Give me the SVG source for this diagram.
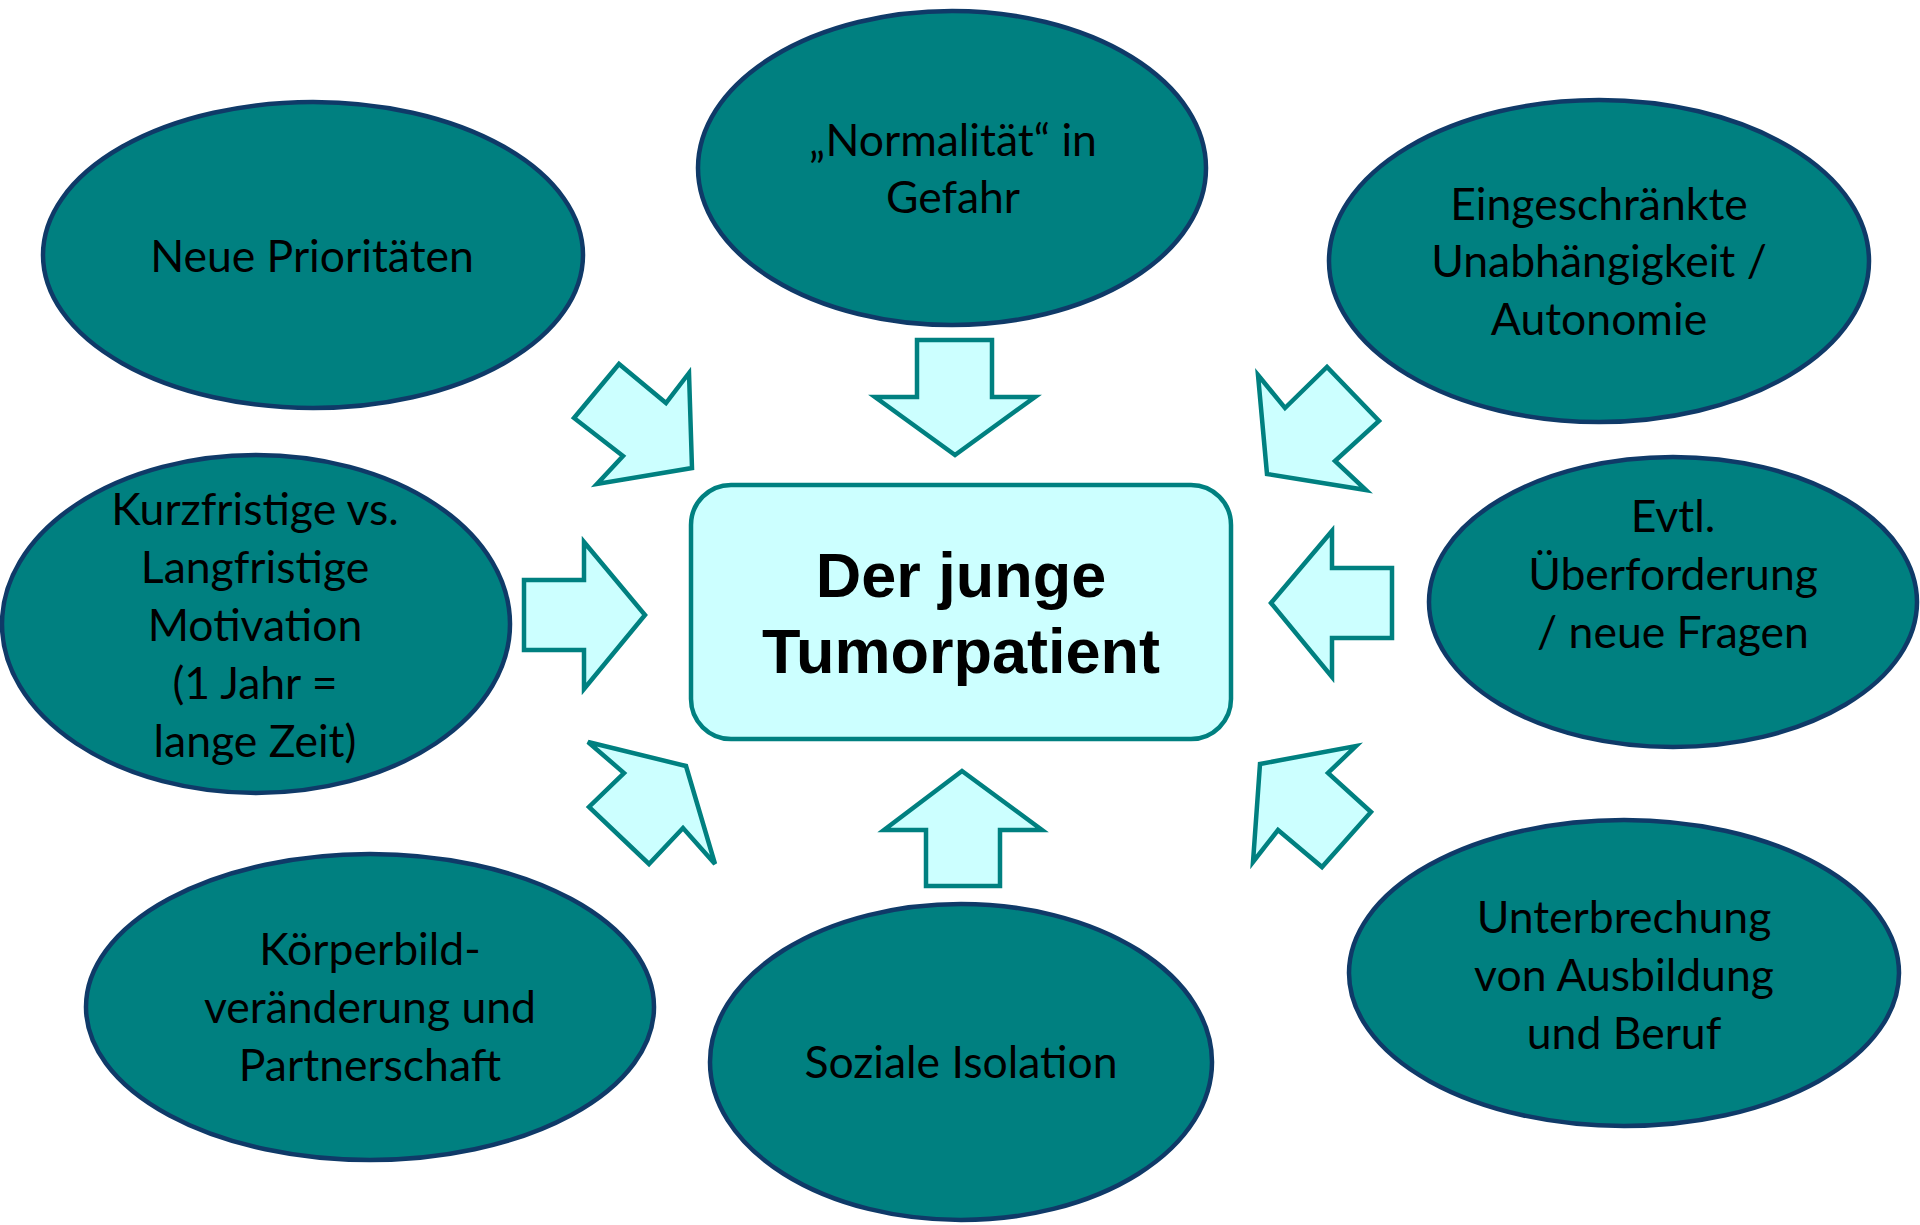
<svg xmlns="http://www.w3.org/2000/svg" width="1920" height="1225" viewBox="0 0 1920 1225">
<style>
.bubble{fill:#008080;stroke:#0F3A68;stroke-width:4.5}
.lbl{font-family:Lato,"Liberation Sans",sans-serif;font-size:44.5px;fill:#000;text-anchor:middle}
.arrow{fill:#CCFFFF;stroke:#008080;stroke-width:4.5;stroke-linejoin:miter}
.core{fill:#CCFFFF;stroke:#008080;stroke-width:4.5}
.title{font-family:"Liberation Sans",Arial,sans-serif;font-weight:bold;font-size:63px;fill:#000;text-anchor:middle}
</style>
<rect width="1920" height="1225" fill="#FFFFFF"/>
<g id="connectors">
<polygon class="arrow" points="574,418 619,364 666,403 689,373 692,468 597,484 623,456"/>
<polygon class="arrow" points="917,340 992,340 992,397 1035,397 955,455 875,397 917,397"/>
<polygon class="arrow" points="1258,375 1285,408 1327,367 1379,421 1335,461 1366,490 1267,474"/>
<polygon class="arrow" points="524,580 584,580 584,542 645,615 584,689 584,650 524,650"/>
<polygon class="arrow" points="1392,568 1332,568 1332,531 1271,603 1332,677 1332,638 1392,638"/>
<polygon class="arrow" points="588,742 686,766 715,864 683,828 649,864 589,807 624,773"/>
<polygon class="arrow" points="962,771 1042,830 1000,830 1000,886 926,886 926,830 884,830"/>
<polygon class="arrow" points="1260,764 1356,746 1328,773 1371,812 1322,867 1278,830 1253,862"/>
</g>
<g id="node-center">
<rect class="core" x="691" y="485" width="540" height="254" rx="40" ry="40"/>
<text class="title" x="961" y="597">Der junge</text>
<text class="title" x="961" y="673">Tumorpatient</text>
</g>
<g id="node-prioritaeten">
<ellipse class="bubble" cx="313" cy="255" rx="270" ry="153"/>
<text class="lbl" x="312" y="272">Neue Prioritäten</text>
</g>
<g id="node-normalitaet">
<ellipse class="bubble" cx="952" cy="168" rx="254" ry="157"/>
<text class="lbl" x="953" y="156">„Normalität“ in</text>
<text class="lbl" x="953" y="213">Gefahr</text>
</g>
<g id="node-autonomie">
<ellipse class="bubble" cx="1599" cy="261" rx="270" ry="161"/>
<text class="lbl" x="1599" y="220">Eingeschränkte</text>
<text class="lbl" x="1599" y="277">Unabhängigkeit /</text>
<text class="lbl" x="1599" y="335">Autonomie</text>
</g>
<g id="node-motivation">
<ellipse class="bubble" cx="256" cy="624" rx="254" ry="169"/>
<text class="lbl" x="255" y="525">Kurzfristige vs.</text>
<text class="lbl" x="255" y="583">Langfristige</text>
<text class="lbl" x="255" y="641">Motivation</text>
<text class="lbl" x="255" y="699">(1 Jahr =</text>
<text class="lbl" x="255" y="757">lange Zeit)</text>
</g>
<g id="node-ueberforderung">
<ellipse class="bubble" cx="1673" cy="602" rx="244" ry="145"/>
<text class="lbl" x="1673" y="532">Evtl.</text>
<text class="lbl" x="1673" y="590">Überforderung</text>
<text class="lbl" x="1673" y="648">/ neue Fragen</text>
</g>
<g id="node-koerperbild">
<ellipse class="bubble" cx="370" cy="1007" rx="284" ry="153"/>
<text class="lbl" x="370" y="965">Körperbild-</text>
<text class="lbl" x="370" y="1023">veränderung und</text>
<text class="lbl" x="370" y="1081">Partnerschaft</text>
</g>
<g id="node-isolation">
<ellipse class="bubble" cx="961" cy="1062" rx="251" ry="158"/>
<text class="lbl" x="961" y="1078">Soziale Isolation</text>
</g>
<g id="node-ausbildung">
<ellipse class="bubble" cx="1624" cy="973" rx="275" ry="153"/>
<text class="lbl" x="1624" y="933">Unterbrechung</text>
<text class="lbl" x="1624" y="991">von Ausbildung</text>
<text class="lbl" x="1624" y="1049">und Beruf</text>
</g>
</svg>
